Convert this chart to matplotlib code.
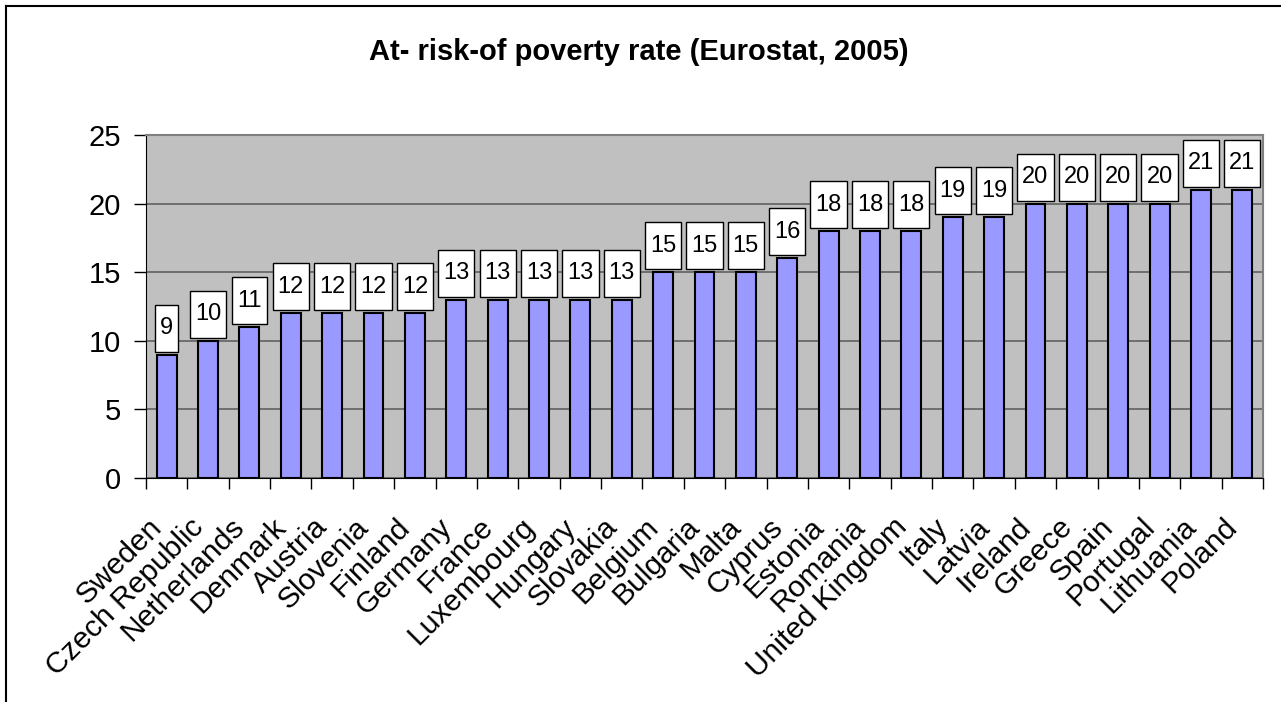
import numpy as np
import matplotlib.pyplot as plt
from matplotlib.patches import Rectangle
from matplotlib.lines import Line2D
from matplotlib import transforms

plt.rcParams['font.family'] = ['Liberation Sans', 'DejaVu Sans']

# Eurostat 2005 at-risk-of-poverty rate (%)
countries = ["Sweden", "Czech Republic", "Netherlands", "Denmark", "Austria",
             "Slovenia", "Finland", "Germany", "France", "Luxembourg", "Hungary",
             "Slovakia", "Belgium", "Bulgaria", "Malta", "Cyprus", "Estonia",
             "Romania", "United Kingdom", "Italy", "Latvia", "Ireland", "Greece",
             "Spain", "Portugal", "Lithuania", "Poland"]
rates = [9, 10, 11, 12, 12, 12, 12, 13, 13, 13, 13, 13, 15, 15, 15, 16,
         18, 18, 18, 19, 19, 20, 20, 20, 20, 21, 21]
y_ticks = [0, 5, 10, 15, 20, 25]

fig = plt.figure(figsize=(12.81, 7.02), dpi=100)
ax = fig.add_axes([146 / 1281, 1 - 478 / 702, (1263 - 146) / 1281, (478 - 135) / 702])

x = np.arange(len(countries))
ax.set_facecolor('#C0C0C0')
ax.bar(x, rates, width=0.48, color='#9999FF', edgecolor='black', linewidth=1.5, zorder=3)

ax.set_xlim(-0.5, len(countries) - 0.5)
ax.set_ylim(0, 25)
ax.set_yticks(y_ticks)
ax.yaxis.grid(True, color='#606060', linewidth=1.2, zorder=1)
ax.set_axisbelow(True)

ax.tick_params(axis='y', direction='out', length=9, width=1, labelsize=21, pad=9)
ax.set_xticks(x)
ax.set_xticklabels(countries, rotation=45, ha='right', va='top', rotation_mode='anchor',
                   fontsize=21.5)
ax.tick_params(axis='x', which='major', length=0, pad=25)
ax.set_xticks(np.arange(len(countries) + 1) - 0.5, minor=True)
ax.tick_params(axis='x', which='minor', direction='out', length=8, width=1)
shift = transforms.ScaledTranslation(-0.19, 0, fig.dpi_scale_trans)
for lab in ax.get_xticklabels():
    lab.set_transform(lab.get_transform() + shift)

for side in ['top', 'right']:
    ax.spines[side].set_color('#808080')
    ax.spines[side].set_linewidth(1.5)
ax.spines['left'].set_color('black')
ax.spines['bottom'].set_color('black')

fig.text(639 / 1281, 1 - 52 / 702, "At- risk-of poverty rate (Eurostat, 2005)",
         fontsize=21, fontweight='bold', ha='center', va='center')

# value labels in white boxes above each bar
labels = []
for xi, v in zip(x, rates):
    tr = transforms.offset_copy(ax.transData, fig=fig, x=0, y=26.5, units='dots')
    t = ax.text(xi, v, str(v), transform=tr, ha='center', va='center',
                fontsize=17, zorder=6, clip_on=False)
    labels.append((t, xi, v))

fig.canvas.draw()
renderer = fig.canvas.get_renderer()
inv = ax.transData.inverted()
for t, xi, v in labels:
    bb = t.get_window_extent(renderer)
    cx, top = ax.transData.transform((xi, v))
    w = bb.width + 10
    x0, y0 = inv.transform((cx - w / 2, top + 3))
    x1, y1 = inv.transform((cx + w / 2, top + 50))
    ax.add_patch(Rectangle((x0, y0), x1 - x0, y1 - y0, facecolor='white',
                           edgecolor='black', linewidth=1, zorder=5, clip_on=False))

# outer chart frame (top and left edges)
fig.add_artist(Line2D([6 / 1281, 1], [1 - 6 / 702, 1 - 6 / 702], color='black', linewidth=1.5))
fig.add_artist(Line2D([6 / 1281, 6 / 1281], [0, 1 - 6 / 702], color='black', linewidth=1.5))

fig.savefig('out.png', dpi=100)
